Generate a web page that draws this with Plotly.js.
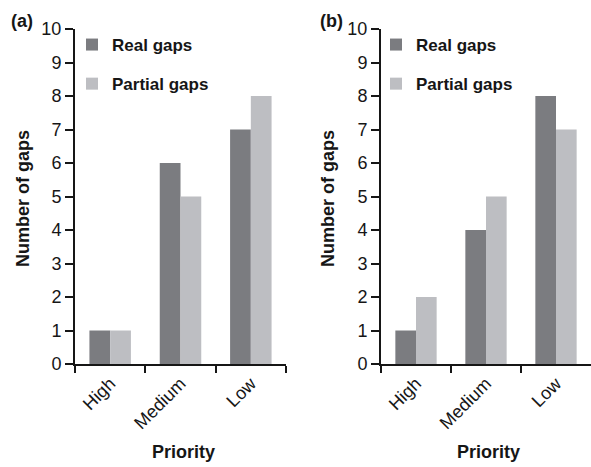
<!DOCTYPE html>
<html><head><meta charset="utf-8">
<script src="https://cdn.plot.ly/plotly-3.0.1.min.js"></script>
<style>html,body{margin:0;padding:0;background:#fff;}#c{width:591px;height:467px;}</style>
</head><body><div id="c"></div>
<script>
const categories = ["High", "Medium", "Low"];
const realA = [1, 6, 7];
const partialA = [1, 5, 8];
const realB = [1, 4, 8];
const partialB = [2, 5, 7];
const seriesNames = ["Real gaps", "Partial gaps"];
const yTicks = [0,1,2,3,4,5,6,7,8,9,10];

const cReal = "#7b7c80", cPart = "#bdbec2";
const FONT = "Liberation Sans, Arial, sans-serif";
const INK = "#161616";
const W = 591, H = 467;
const px = v => v / W, py = v => 1 - v / H;

const data = [
  {type:"bar", x:categories, y:realA, name:"<b>"+seriesNames[0]+"</b>", marker:{color:cReal}, xaxis:"x", yaxis:"y", legend:"legend", legendgroup:"a1"},
  {type:"bar", x:categories, y:partialA, name:"<b>"+seriesNames[1]+"</b>", marker:{color:cPart}, xaxis:"x", yaxis:"y", legend:"legend", legendgroup:"a2"},
  {type:"bar", x:categories, y:realB, name:"<b>"+seriesNames[0]+"</b>", marker:{color:cReal}, xaxis:"x2", yaxis:"y2", legend:"legend2", legendgroup:"b1"},
  {type:"bar", x:categories, y:partialB, name:"<b>"+seriesNames[1]+"</b>", marker:{color:cPart}, xaxis:"x2", yaxis:"y2", legend:"legend2", legendgroup:"b2"}
];

const xCommon = {type:"category", showline:true, linecolor:INK, linewidth:2, ticks:"outside", tickson:"boundaries", ticklen:7, tickwidth:2, tickcolor:INK, tickangle:-45, tickfont:{family:FONT, size:18, color:INK}, showgrid:false, zeroline:false, fixedrange:true};
const yCommon = {range:[0,10], tickvals:yTicks, showline:true, linecolor:INK, linewidth:2, ticks:"outside", ticklen:8, tickwidth:2, tickcolor:INK, tickfont:{family:FONT, size:18, color:INK}, showgrid:false, zeroline:false, fixedrange:true};
const yDom = [py(364), py(29)];

const legCommon = {font:{family:FONT, size:17, color:INK}, bgcolor:"rgba(0,0,0,0)", traceorder:"grouped", tracegroupgap:14, xanchor:"left", yanchor:"top", itemclick:false};

const tf = {family:FONT, size:18, color:INK};
const layout = {
  width:W, height:H, margin:{l:0,r:0,t:0,b:0}, paper_bgcolor:"#fff", plot_bgcolor:"rgba(0,0,0,0)",
  barmode:"group", bargap:0.41, bargroupgap:0,
  font:{family:FONT, color:INK},
  xaxis:Object.assign({}, xCommon, {domain:[px(75), px(286)], anchor:"y"}),
  xaxis2:Object.assign({}, xCommon, {domain:[px(381), 1], anchor:"y2"}),
  yaxis:Object.assign({}, yCommon, {domain:yDom, anchor:"x"}),
  yaxis2:Object.assign({}, yCommon, {domain:yDom, anchor:"x2"}),
  legend:Object.assign({}, legCommon, {x:px(72), y:py(27)}),
  legend2:Object.assign({}, legCommon, {x:px(376), y:py(27)}),
  annotations:[
    {text:"<b>(a)</b>", xref:"paper", yref:"paper", x:px(9), y:py(21), xanchor:"left", yanchor:"middle", showarrow:false, font:tf},
    {text:"<b>(b)</b>", xref:"paper", yref:"paper", x:px(318), y:py(21), xanchor:"left", yanchor:"middle", showarrow:false, font:tf},
    {text:"<b>Number of gaps</b>", xref:"paper", yref:"paper", x:px(23), y:py(199), xanchor:"center", yanchor:"middle", textangle:-90, showarrow:false, font:tf},
    {text:"<b>Number of gaps</b>", xref:"paper", yref:"paper", x:px(328), y:py(199), xanchor:"center", yanchor:"middle", textangle:-90, showarrow:false, font:tf},
    {text:"<b>Priority</b>", xref:"paper", yref:"paper", x:px(183), y:py(452), xanchor:"center", yanchor:"middle", showarrow:false, font:tf},
    {text:"<b>Priority</b>", xref:"paper", yref:"paper", x:px(488), y:py(452), xanchor:"center", yanchor:"middle", showarrow:false, font:tf}
  ]
};

Plotly.newPlot("c", data, layout, {staticPlot:true, displayModeBar:false});
</script></body></html>
